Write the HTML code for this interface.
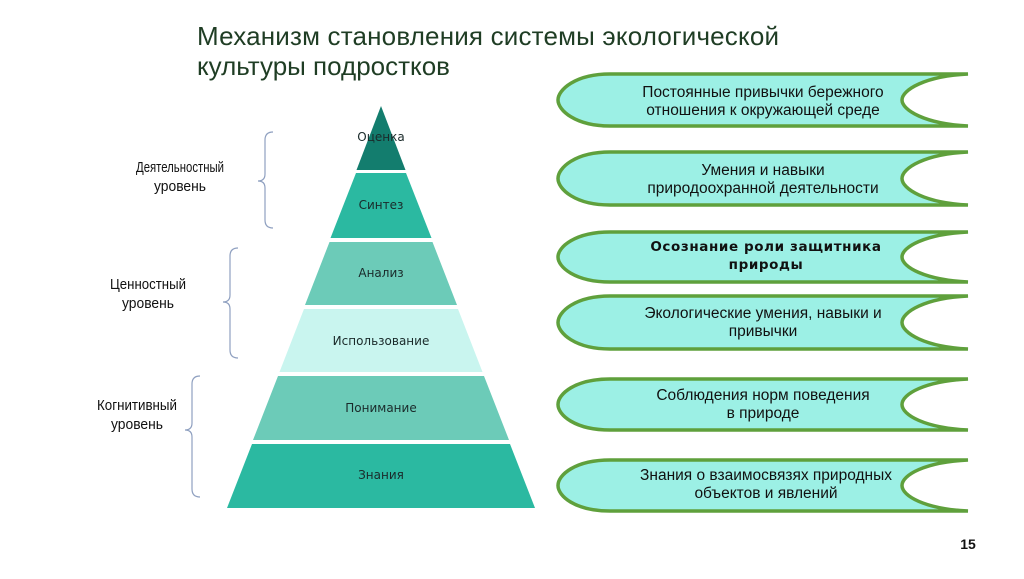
<!DOCTYPE html>
<html><head><meta charset="utf-8"><style>
body{margin:0;background:#fff;width:1024px;height:574px;overflow:hidden;font-family:"Liberation Sans",sans-serif}
</style></head><body>
<svg width="1024" height="574" xmlns="http://www.w3.org/2000/svg" font-family="Liberation Sans, sans-serif">
<text x="197" y="45" font-size="26" fill="#1f3d24" textLength="582">Механизм становления системы экологической</text>
<text x="197" y="75" font-size="26" fill="#1f3d24">культуры подростков</text>

<!-- pyramid -->
<polygon points="381,106 405.5,170 356.5,170" fill="#137d6e"/>
<polygon points="356,173 406,173 431.5,238 330.5,238" fill="#2bb9a1"/>
<polygon points="329.5,242 432.5,242 457,305 305,305" fill="#6ccbb8"/>
<polygon points="304,309 458,309 482.5,372 279.5,372" fill="#c9f5ef"/>
<polygon points="278,376 484,376 509,440 253,440" fill="#6ccbb8"/>
<polygon points="252,444 510,444 535,508 227,508" fill="#2bb9a1"/>
<g font-size="12" fill="#1a2a2a" text-anchor="middle" font-family="DejaVu Sans, sans-serif">
<text x="381" y="141">Оценка</text>
<text x="381" y="209">Синтез</text>
<text x="381" y="277">Анализ</text>
<text x="381" y="345">Использование</text>
<text x="381" y="412">Понимание</text>
<text x="381" y="479">Знания</text>
</g>

<!-- braces -->
<g fill="none" stroke="#8fa0c0" stroke-width="1.2">
<path d="M273,132 Q265,132 265,140 L265,174 Q265,181 258,181 Q265,181 265,188 L265,220 Q265,228 273,228"/>
<path d="M238,248 Q230,248 230,256 L230,295 Q230,302 223,302 Q230,302 230,309 L230,350 Q230,358 238,358"/>
<path d="M200,376 Q192,376 192,384 L192,423 Q192,430 185,430 Q192,430 192,437 L192,489 Q192,497 200,497"/>
</g>
<g font-size="15" fill="#111" text-anchor="middle">
<text x="180" y="172" textLength="88" lengthAdjust="spacingAndGlyphs">Деятельностный</text>
<text x="180" y="191" textLength="52" lengthAdjust="spacingAndGlyphs">уровень</text>
<text x="148" y="289" textLength="76" lengthAdjust="spacingAndGlyphs">Ценностный</text>
<text x="148" y="308" textLength="52" lengthAdjust="spacingAndGlyphs">уровень</text>
<text x="137" y="410" textLength="80" lengthAdjust="spacingAndGlyphs">Когнитивный</text>
<text x="137" y="429" textLength="52" lengthAdjust="spacingAndGlyphs">уровень</text>
</g>

<!-- ribbons -->
<g fill="#9cf0e5" stroke="#5fa03c" stroke-width="3.5">
<path d="M968 74 L610 74 C575 74 558 90 558 100 C558 110 575 126 610 126 L968 126 C925 124 902 110 902 100 C902 90 925 76 968 74 Z"/>
<path d="M968 152 L610 152 C575 152 558 168 558 178.5 C558 189 575 205 610 205 L968 205 C925 203 902 189 902 178.5 C902 168 925 154 968 152 Z"/>
<path d="M968 232 L610 232 C575 232 558 247 558 257 C558 267 575 282 610 282 L968 282 C925 280 902 267 902 257 C902 247 925 234 968 232 Z"/>
<path d="M968 296 L610 296 C575 296 558 312 558 322.5 C558 333 575 349 610 349 L968 349 C925 347 902 333 902 322.5 C902 312 925 298 968 296 Z"/>
<path d="M968 379 L610 379 C575 379 558 394 558 404.5 C558 415 575 430 610 430 L968 430 C925 428 902 415 902 404.5 C902 394 925 381 968 379 Z"/>
<path d="M968 460 L610 460 C575 460 558 475 558 485.5 C558 496 575 511 610 511 L968 511 C925 509 902 496 902 485.5 C902 475 925 462 968 460 Z"/>
</g>
<g font-size="15.5" fill="#111" text-anchor="middle">
<text x="763" y="97">Постоянные привычки бережного</text>
<text x="763" y="115">отношения к окружающей среде</text>
<text x="763" y="175">Умения и навыки</text>
<text x="763" y="193">природоохранной деятельности</text>
<text x="766" y="251" font-family="DejaVu Sans, sans-serif" font-weight="bold" font-size="13.5" letter-spacing="0.6">Осознание роли защитника</text>
<text x="766" y="269" font-family="DejaVu Sans, sans-serif" font-weight="bold" font-size="13.5" letter-spacing="0.6">природы</text>
<text x="763" y="318">Экологические умения, навыки и</text>
<text x="763" y="336">привычки</text>
<text x="763" y="400">Соблюдения норм поведения</text>
<text x="763" y="418">в природе</text>
<text x="766" y="480">Знания о взаимосвязях природных</text>
<text x="766" y="498">объектов и явлений</text>
</g>
<text x="968" y="549" font-size="14" font-weight="bold" fill="#111" text-anchor="middle">15</text>
</svg>
</body></html>
